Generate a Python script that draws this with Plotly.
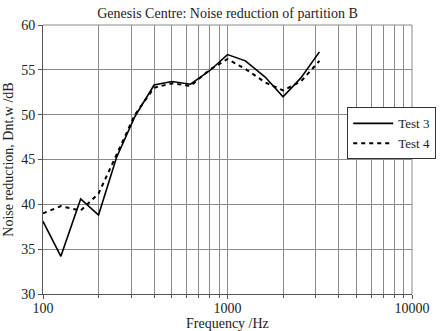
import plotly.graph_objects as go

freqs = [100, 125, 160, 200, 250, 315, 400, 500, 630, 800, 1000, 1250, 1600, 2000, 2500, 3150]
test3 = [38.1, 34.2, 40.6, 38.8, 45.2, 49.8, 53.3, 53.7, 53.4, 54.9, 56.7, 56.0, 54.2, 52.0, 54.1, 57.0]
test4 = [39.0, 39.8, 39.3, 41.2, 45.5, 50.0, 53.0, 53.5, 53.2, 55.0, 56.2, 55.1, 53.6, 52.7, 53.7, 56.0]
x_tick_vals = [100, 1000, 10000]
x_tick_text = ["100", "1000", "10000"]
y_tick_vals = [30, 35, 40, 45, 50, 55, 60]

font_family = "Liberation Serif"

fig = go.Figure()
fig.add_trace(go.Scatter(x=freqs, y=test3, mode="lines", name="Test 3",
                         line=dict(color="black", width=1.6)))
fig.add_trace(go.Scatter(x=freqs, y=test4, mode="lines", name="Test 4",
                         line=dict(color="black", width=2, dash="4px,4px")))

fig.update_layout(
    width=444, height=331,
    margin=dict(l=43, r=32, t=25, b=37, autoexpand=False),
    paper_bgcolor="white", plot_bgcolor="white",
    font=dict(family=font_family, size=14, color="#222"),
    title=dict(text="Genesis Centre: Noise reduction of partition B",
               x=0.5, xanchor="center", xref="paper", y=0.96, yanchor="middle",
               font=dict(size=14, family=font_family, color="#222")),
    legend=dict(x=0.945, xanchor="center", y=0.597, yanchor="middle",
                bgcolor="white", bordercolor="#333", borderwidth=1,
                font=dict(size=13, family=font_family, color="#222"),
                tracegroupgap=0, itemwidth=40),
    showlegend=True,
    annotations=[dict(text="Frequency /Hz", xref="paper", yref="paper",
                      x=0.5, y=-0.108, xanchor="center", yanchor="middle",
                      showarrow=False, font=dict(size=14, family=font_family, color="#222"))],
)

fig.update_xaxes(
    type="log", range=[2, 4], automargin=False,
    tickvals=x_tick_vals, ticktext=x_tick_text,
    showgrid=True, gridcolor="#8a8a8a", gridwidth=1,
    minor=dict(dtick="D1", showgrid=True, gridcolor="#8a8a8a", gridwidth=1,
               ticks="outside", ticklen=3, tickcolor="#555"),
    showline=True, linecolor="#555", linewidth=1,
    ticks="outside", ticklen=4, tickcolor="#555",
    ticklabelstandoff=-3,
    zeroline=False,
    tickfont=dict(size=14, family=font_family),
)
fig.update_yaxes(
    range=[30, 60], tickvals=y_tick_vals, automargin=False,
    showgrid=True, gridcolor="#8a8a8a", gridwidth=1,
    showline=True, linecolor="#555", linewidth=1,
    ticks="outside", ticklen=4, tickcolor="#555",
    zeroline=False,
    title=dict(text="Noise reduction, Dnt,w /dB", standoff=4, font=dict(size=14, family=font_family)),
    tickfont=dict(size=14, family=font_family),
)

# top and right border lines of plot area
fig.add_shape(type="line", xref="paper", yref="paper", x0=0, x1=1, y0=1, y1=1,
              line=dict(color="#8a8a8a", width=1))
fig.add_shape(type="line", xref="paper", yref="paper", x0=1, x1=1, y0=0, y1=1,
              line=dict(color="#8a8a8a", width=1))

fig.write_html("out.html", config={"displayModeBar": False},
               post_script="document.body.style.margin='0';document.body.style.overflow='hidden';")
